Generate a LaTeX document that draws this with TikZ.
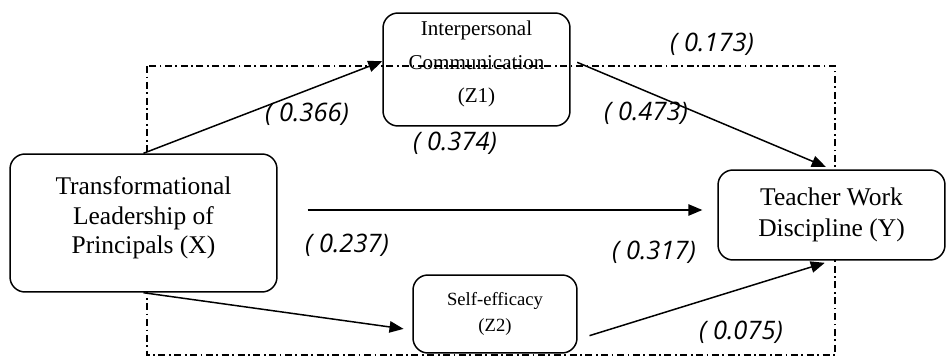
\documentclass[tikz,border=0pt]{standalone}
\usepackage{fontspec}
\setmainfont{Liberation Serif}
\newfontfamily\coeffont{Open Sans}
\usetikzlibrary{arrows.meta}

\begin{document}
\begin{tikzpicture}[
    x=0.02cm, y=-0.02cm,
    box/.style={draw, rounded corners=0.3cm, align=center, fill=white, line width=0.85pt},
    arrow/.style={-{Triangle[length=8pt,width=6.5pt]}, line width=0.85pt},
    coef/.style={font=\coeffont\itshape\fontsize{14.5}{17}\selectfont, inner sep=0pt},
    frame/.style={line width=0.8pt, dash pattern=on 4pt off 2pt on 1pt off 2pt}
]
\useasboundingbox (0,0) rectangle (947,358);

% total effect frame (drawn first, boxes cover it)
\coordinate (frametl) at (147,66);
\coordinate (framebr) at (835,355);
\draw[frame] (frametl) rectangle (framebr);

\node[box, minimum width=5.34cm, minimum height=2.76cm, text depth=9pt,
      font=\fontsize{14.5}{17}\selectfont] (lead) at (143.5,223)
      {Transformational\\Leadership of\\Principals (X)};
\node[box, fill=none, minimum width=3.74cm, minimum height=2.26cm, text depth=8.5pt,
      font=\fontsize{12}{19}\selectfont] (comm) at (476.5,69.5)
      {Interpersonal\\Communication\\(Z1)};
\node[box, minimum width=4.54cm, minimum height=1.8cm,
      font=\fontsize{14.5}{18}\selectfont] (disc) at (831.5,215)
      {Teacher Work\\Discipline (Y)};
\node[box, minimum width=3.28cm, minimum height=1.56cm,
      font=\fontsize{10.6}{15}\selectfont] (self) at (495,314)
      {Self-efficacy\\(Z2)};

\draw[arrow] (lead.north) -- (comm.175);
\draw[arrow, shorten <=4pt, shorten >=3.5pt] (comm.6) -- (disc.north);
\draw[arrow, shorten <=17pt, shorten >=8.5pt] ([yshift=0.1cm]lead.east |- disc.west) -- ([yshift=0.1cm]disc.west);
\draw[arrow, shorten >=5pt] (lead.south) -- (self.191);
\draw[arrow, shorten <=7pt, shorten >=4pt] (self.-17) -- (disc.south);

% path coefficients
\node[coef] (c366) at (307,114) {( 0.366)};
\node[coef] (c374) at (455,143) {( 0.374)};
\node[coef] (c173) at (712,44) {( 0.173)};
\node[coef] (c473) at (646,113) {( 0.473)};
\node[coef] (c237) at (347,245) {( 0.237)};
\node[coef] (c317) at (654,252) {( 0.317)};
\node[coef] (c075) at (741,332) {( 0.075)};
\end{tikzpicture}
\end{document}
